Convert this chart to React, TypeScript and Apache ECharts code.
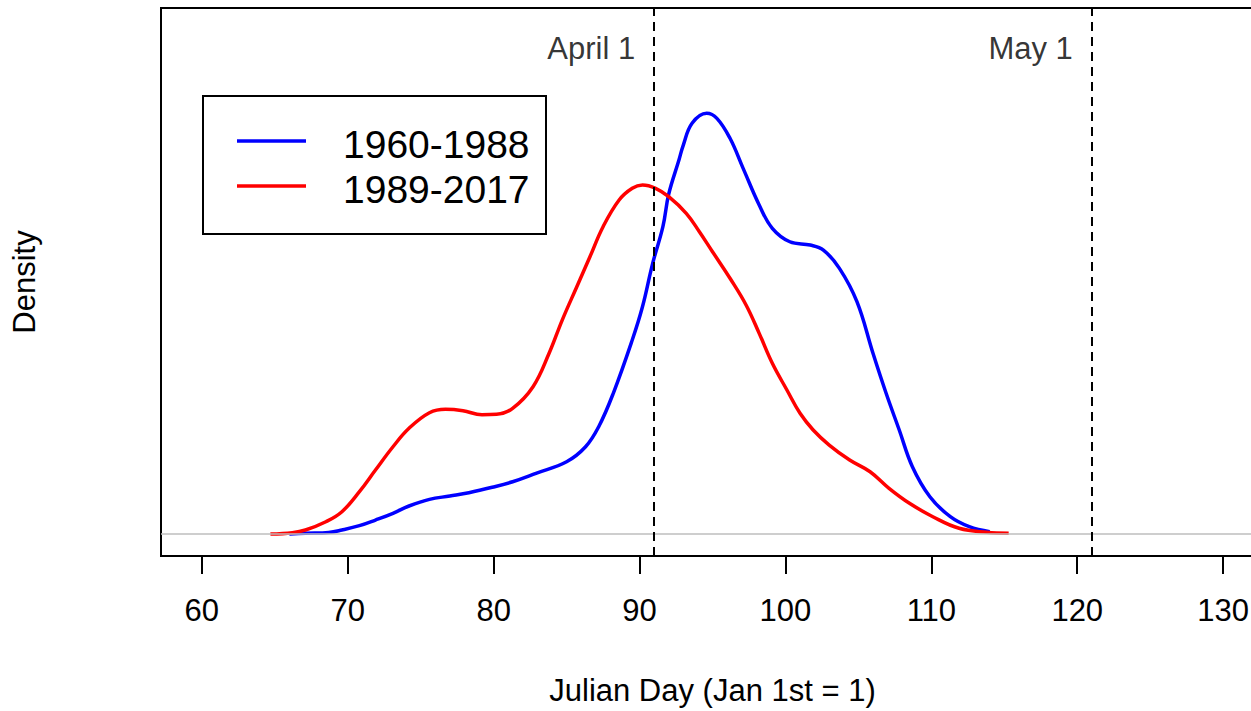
import React, { useEffect, useRef } from "react";
import * as echarts from "echarts";

// Period 1960-1988 (blue)
const blueDays = [66.0, 67.1, 68.7, 69.6, 70.8, 71.9, 73.1, 74.2, 75.6, 77.0, 78.3, 79.9, 81.3, 82.9, 85.0, 86.3, 87.2, 88.2, 89.5, 90.2, 90.9, 91.6, 92.0, 92.7, 93.0, 93.6, 94.6, 95.3, 96.2, 97.1, 98.2, 99.1, 100.3, 101.7, 102.6, 103.7, 104.9, 106.0, 106.9, 107.8, 108.7, 109.9, 111.3, 112.6, 114.0];
const blueDensity = [0.0, 0.0001, 0.0002, 0.00049, 0.001, 0.00167, 0.00247, 0.00334, 0.00413, 0.00453, 0.00492, 0.00556, 0.00622, 0.00722, 0.0086, 0.01038, 0.01276, 0.01673, 0.02306, 0.02701, 0.03217, 0.03652, 0.04040, 0.04444, 0.04622, 0.0488, 0.04999, 0.04939, 0.04702, 0.04345, 0.0391, 0.03633, 0.03473, 0.03434, 0.03375, 0.03157, 0.02761, 0.02148, 0.01673, 0.01237, 0.00801, 0.00444, 0.00207, 0.00088, 0.00029];

// Period 1989-2017 (red)
const redDays = [64.7, 66.2, 67.1, 68.5, 69.6, 70.8, 71.9, 73.1, 74.2, 75.6, 76.7, 77.9, 79.2, 80.2, 81.3, 82.7, 83.8, 84.7, 85.7, 86.6, 87.5, 88.6, 89.5, 90.2, 91.1, 92.0, 93.2, 94.1, 95.0, 96.2, 97.3, 98.2, 99.1, 100.1, 101.0, 101.9, 103.0, 104.4, 105.8, 107.1, 108.5, 110.1, 111.9, 113.8, 115.3];
const redDensity = [0.0, 0.00017, 0.00049, 0.00147, 0.00266, 0.00504, 0.00761, 0.01038, 0.01257, 0.01442, 0.01483, 0.01466, 0.01418, 0.01423, 0.01494, 0.01751, 0.02148, 0.02543, 0.02939, 0.03295, 0.03652, 0.03969, 0.04108, 0.04147, 0.04108, 0.04008, 0.03811, 0.03592, 0.03355, 0.03039, 0.02722, 0.02385, 0.02029, 0.01712, 0.01435, 0.01237, 0.01058, 0.0088, 0.00741, 0.00544, 0.00366, 0.00207, 0.00069, 0.00021, 0.0001];

const seriesNames = ["1960-1988", "1989-2017"];
const xTicks = [60, 70, 80, 90, 100, 110, 120, 130];
const refDays = [91, 121];
const refLabels = ["April 1", "May 1"];

const FONT = "'Liberation Sans', Arial, Helvetica, sans-serif";

export default function App() {
  const ref = useRef<HTMLDivElement>(null);
  useEffect(() => {
    if (!ref.current) return;
    const chart = echarts.init(ref.current, null, { renderer: "svg" });
    const blue = blueDays.map((d, i) => [d, blueDensity[i]]);
    const red = redDays.map((d, i) => [d, redDensity[i]]);
    const labelY = 0.0577;
    chart.setOption({
      animation: false,
      backgroundColor: "#ffffff",
      textStyle: { fontFamily: FONT },
      grid: {
        left: 161,
        top: 8,
        right: 2,
        bottom: 155,
        show: true,
        borderColor: "#000",
        borderWidth: 2,
        backgroundColor: "transparent",
      },
      xAxis: {
        type: "value",
        min: 57.2,
        max: 132.8,
        name: "Julian Day (Jan 1st = 1)",
        nameLocation: "middle",
        nameGap: 119,
        nameTextStyle: { fontSize: 31, color: "#000", fontFamily: FONT },
        axisLine: { show: true, onZero: false, lineStyle: { color: "#000", width: 2 } },
        splitLine: { show: false },
        axisTick: {
          show: true,
          inside: false,
          length: 18,
          customValues: xTicks,
          lineStyle: { color: "#000", width: 2 },
        },
        axisLabel: {
          show: true,
          customValues: xTicks,
          margin: 39,
          fontSize: 31,
          color: "#000",
          fontFamily: FONT,
        },
      },
      yAxis: {
        type: "value",
        min: -0.0026,
        max: 0.0625,
        name: "Density",
        nameLocation: "middle",
        nameRotate: 90,
        nameGap: 121,
        nameTextStyle: { fontSize: 31, color: "#000", fontFamily: FONT },
        axisLine: { show: false },
        axisTick: { show: false },
        axisLabel: { show: false },
        splitLine: { show: false },
      },
      series: [
        {
          name: "zero",
          type: "line",
          data: [],
          silent: true,
          markLine: {
            silent: true,
            symbol: "none",
            label: { show: false },
            lineStyle: { color: "#bebebe", width: 1.5, type: "solid" },
            data: [{ yAxis: 0 }],
          },
        },
        {
          name: "refs",
          type: "line",
          data: [],
          silent: true,
          markLine: {
            silent: true,
            symbol: "none",
            label: { show: false },
            lineStyle: { color: "#000", width: 2, type: [9, 6] },
            data: refDays.map((d) => ({ xAxis: d })),
          },
        },
        {
          name: seriesNames[0],
          type: "line",
          data: blue,
          smooth: 0.4,
          showSymbol: false,
          lineStyle: { color: "#0000ff", width: 3.5 },
          itemStyle: { color: "#0000ff" },
        },
        {
          name: seriesNames[1],
          type: "line",
          data: red,
          smooth: 0.4,
          showSymbol: false,
          lineStyle: { color: "#ff0000", width: 3.5 },
          itemStyle: { color: "#ff0000" },
        },
        {
          name: "refLabels",
          type: "scatter",
          symbolSize: 0,
          silent: true,
          data: refDays.map((d, i) => ({ value: [d, labelY], name: refLabels[i] })),
          label: {
            show: true,
            position: "left",
            distance: 19,
            formatter: (p: any) => p.name,
            fontSize: 31,
            color: "#000",
            fontFamily: FONT,
          },
        },
      ],
      graphic: [
        {
          type: "rect",
          shape: { x: 203, y: 96, width: 343, height: 138 },
          style: { fill: "#fff", stroke: "#000", lineWidth: 2 },
        },
        {
          type: "line",
          shape: { x1: 237, y1: 141, x2: 306, y2: 141 },
          style: { stroke: "#0000ff", lineWidth: 3.5 },
        },
        {
          type: "line",
          shape: { x1: 237, y1: 186, x2: 306, y2: 186 },
          style: { stroke: "#ff0000", lineWidth: 3.5 },
        },
        {
          type: "text",
          x: 343,
          y: 144,
          style: {
            text: seriesNames[0],
            fontSize: 39,
            fontFamily: FONT,
            fill: "#000",
            verticalAlign: "middle",
            align: "left",
          },
        },
        {
          type: "text",
          x: 343,
          y: 189,
          style: {
            text: seriesNames[1],
            fontSize: 39,
            fontFamily: FONT,
            fill: "#000",
            verticalAlign: "middle",
            align: "left",
          },
        },
      ],
    });
    return () => chart.dispose();
  }, []);
  return (
    <div style={{ position: "absolute", left: 0, top: 0, width: 1251, height: 711, overflow: "hidden", background: "#fff" }}>
      <div ref={ref} style={{ width: 1266, height: 711 }} />
    </div>
  );
}
